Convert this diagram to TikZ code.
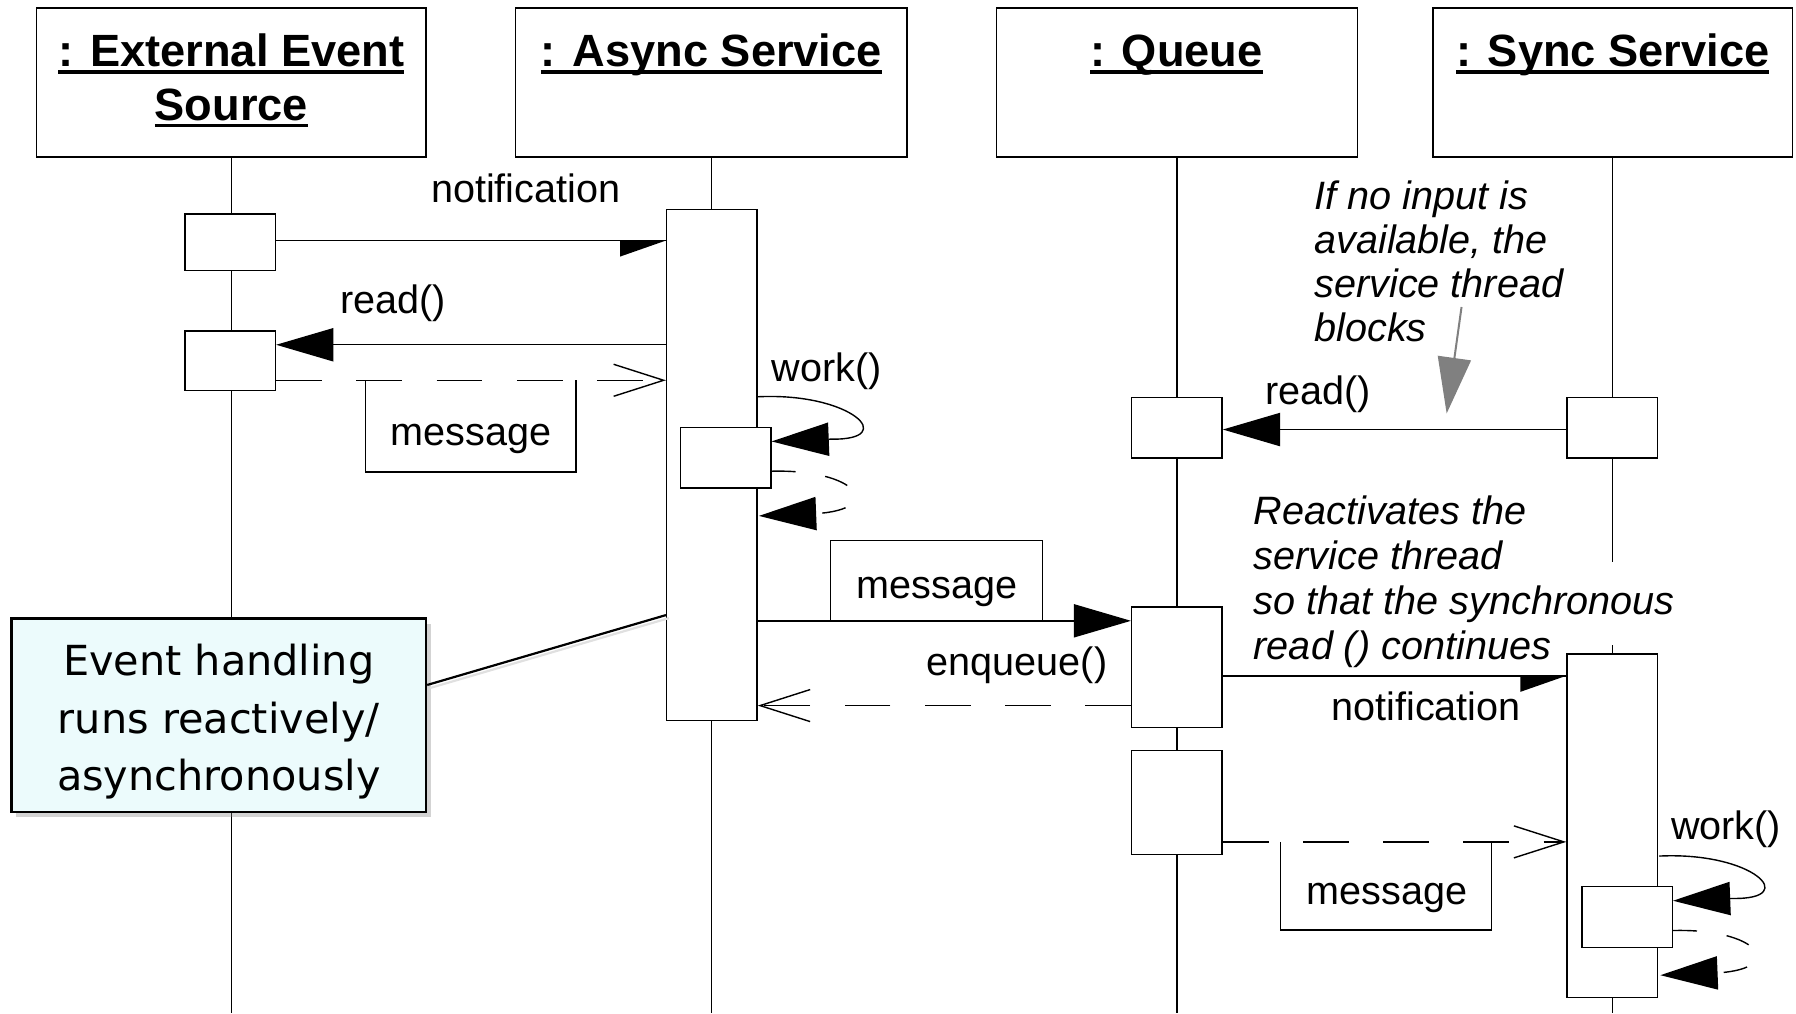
\documentclass[tikz,border=0pt]{standalone}
\usepackage{fontspec}
\setmainfont{Liberation Sans}
\newfontfamily\callfont{DejaVu Sans}
\usetikzlibrary{arrows.meta,shadows}
\definecolor{callfill}{RGB}{236,251,252}
\definecolor{pointgray}{RGB}{128,128,128}
\newcommand\hul[1]{\setbox0\hbox{#1}\rlap{\rule[-3.6pt]{\wd0}{1.8pt}}\box0}
\newcommand\lblfont{\fontsize{19.8pt}{22.4pt}\selectfont}
\newcommand\hdfont{\fontsize{22.6pt}{26.9pt}\selectfont\bfseries}
\newcommand\notefonta{\fontsize{19.8pt}{21.9pt}\selectfont\itshape}
\newcommand\notefontb{\fontsize{19.8pt}{22.5pt}\selectfont\itshape}
\newcommand\calloutfont{\callfont\fontsize{20.7pt}{28.6pt}\selectfont}
\newcommand\sul{0.5727pt}
\begin{document}
\begin{tikzpicture}[x=0.5727pt,y=-0.5727pt,line width=0.7pt,font=\lblfont,
  hdr/.style={draw,minimum height={130*\sul},inner sep=0pt},
  act/.style={draw,fill=white,minimum width={79*\sul},inner sep=0pt},
  life/.style={line width=0.65pt},
  sync/.style={-{Triangle[length=28.6pt,width=16.6pt]}},
  ret/.style={dash pattern=on 22.9pt off 17.2pt,-{Straight Barb[length=25pt,width=16pt]}},
  selfret/.style={dash pattern=on 12pt off 15pt,-{Triangle[length=28.6pt,width=16.6pt]}},
  hdtext/.style={inner sep=0pt,anchor=base,font=\hdfont},
  note/.style={inner sep=0pt,anchor=base west},
  lbl/.style={inner sep=0pt},
  callout/.style={draw,fill=callfill,line width=1.1pt,inner sep=0pt,
     drop shadow={opacity=0.35,shadow xshift=2.5pt,shadow yshift=-2.5pt}},
  callouttext/.style={inner sep=0pt,align=center,font=\calloutfont}
]
\useasboundingbox (0,0) rectangle (1568,884.4);
\coordinate (bot) at (0,884.4);
% header boxes
\node[hdr,minimum width={340*\sul}] (H1) at (202,72) {};
\node[hdr,minimum width={342*\sul}] (H2) at (621,72) {};
\node[hdr,minimum width={315*\sul}] (H3) at (1027.5,72) {};
\node[hdr,minimum width={314*\sul}] (H4) at (1408,72) {};
\node[hdtext] (t1) at (202,58) {\hul{: External Event}};
\node[hdtext] (t1b) at (202,105) {\hul{Source}};
\node[hdtext] (t2) at (621,58) {\hul{: Async Service}};
\node[hdtext] (t3) at (1027,58) {\hul{: Queue}};
\node[hdtext] (t4) at (1408,58) {\hul{: Sync Service}};
% lifelines
\foreach \h in {H1,H2,H3,H4} \draw[life] (\h.south) -- (\h.south |- bot);
\fill[white] (1400,491) rectangle (1416,563);
% activations
\node[act,minimum height={49*\sul}] (E1) at (201,211.5) {};
\node[act,minimum height={52*\sul}] (E2) at (201,315) {};
\node[act,minimum height={446*\sul}] (A1) at (621.5,406) {};
\node[act,minimum height={53*\sul}] (A1n) at (633.5,399.5) {};
\node[act,minimum height={53*\sul}] (Q1) at (1027.5,373.5) {};
\node[act,minimum height={105*\sul}] (Q2) at (1027.5,582.5) {};
\node[act,minimum height={91*\sul}] (Q3) at (1027.5,700.5) {};
\node[act,minimum height={53*\sul}] (S1) at (1407.5,373.5) {};
\node[act,minimum height={300*\sul}] (S2) at (1407.5,721) {};
\node[act,minimum height={53*\sul}] (S2n) at (1420.5,800.5) {};
% message levels
\coordinate (m1) at (0,210);
\coordinate (m2) at (0,301);
\coordinate (m3) at (0,332);
\coordinate (m5) at (0,542);
\coordinate (m6) at (0,616);
\coordinate (m7) at (0,375);
\coordinate (m8) at (0,590);
\coordinate (m9) at (0,735);
% notification 1
\draw (E1.east |- m1) -- (A1.west |- m1);
\fill (A1.west |- m1) -- ++(-40,0) -- ++(0,14) -- cycle;
\node[lbl] (l1) at (459,164) {notification};
% read 1
\draw[sync] (A1.west |- m2) -- (E2.east |- m2);
\node[lbl] (l2) at (343,265) {read()};
% return message 1
\draw[ret] (E2.east |- m3) -- (A1.west |- m3);
\draw (319,332) -- (319,412) -- (503,412) -- (503,332);
\node[lbl] (l3) at (411,383) {message};
% self calls
\foreach \n in {A1n,S2n} {
  \draw[sync,shift={(\n.north east)}] (-12,-26) .. controls (70,-30) and (112,12) .. (52,11) -- (0,13);
  \draw[selfret,shift={(\n.north east)}] (0,39) .. controls (75,37) and (100,72) .. (39,76) -- (-11,78);
}
\node[lbl] (w1) at (722,324) {work()};
\node[lbl] (w2) at (1507,724) {work()};
% enqueue
\draw[sync] (A1.east |- m5) -- (Q2.west |- m5);
\draw (725,542) -- (725,472) -- (910,472) -- (910,542);
\node[lbl] (l5) at (818,517) {message};
\node[lbl] (l6) at (888,581) {enqueue()};
\draw[ret] (Q2.west |- m6) -- (A1.east |- m6);
% read 2
\draw[sync] (S1.west |- m7) -- (Q1.east |- m7);
\node[lbl] (l7) at (1151,344) {read()};
% notification 2
\draw (Q2.east |- m8) -- (S2.west |- m8);
\fill (S2.west |- m8) -- ++(-40,0) -- ++(0,14) -- cycle;
\node[lbl] (l8) at (1245,617) {notification};
% message 3
\draw[ret] (Q3.east |- m9) -- (S2.west |- m9);
\draw (1118,735) -- (1118,812) -- (1302,812) -- (1302,735);
\node[lbl] (l9) at (1211,784) {message};
% notes
\node[note,font=\notefonta] (n1) at (1147,183) {\begin{tabular}[t]{@{}l@{}}If no input is\\available, the\\service thread\\blocks\end{tabular}};
\node[note,font=\notefontb] (n2) at (1094,458) {\begin{tabular}[t]{@{}l@{}}Reactivates the\\service thread\\so that the synchronous\\read () continues\end{tabular}};
\coordinate (g1) at (1276,268);
\coordinate (g2) at (1263,361);
\draw[pointgray,line width=1pt,-{Triangle[length=28pt,width=16.6pt]}] (g1) -- (g2);
% callout
\node[callout,minimum width={362*\sul},minimum height={169*\sul}] (call) at (191,624.5) {};
\node[callouttext] (calltext) at (191,630) {Event handling\\runs reactively/\\asynchronously};
\coordinate (c1) at (0,598);
\coordinate (c2) at (0,537);
\draw[black!12,line width=1.1pt] ([xshift=1.5pt,yshift=-1.5pt]call.east |- c1) -- ([xshift=1.5pt,yshift=-1.5pt]A1.west |- c2);
\draw[line width=1.1pt] (call.east |- c1) -- (A1.west |- c2);
\end{tikzpicture}
\end{document}
